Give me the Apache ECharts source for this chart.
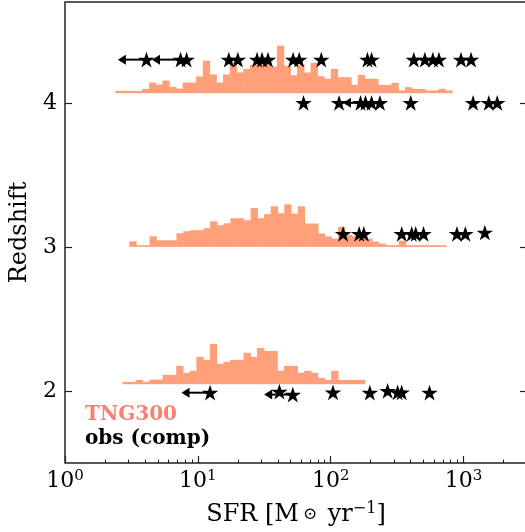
<!DOCTYPE html>
<html><head><meta charset="utf-8">
<script src="https://cdn.jsdelivr.net/npm/echarts@6/dist/echarts.min.js"></script>
<style>html,body{margin:0;padding:0;background:#fff}#c{width:525px;height:532px}</style>
</head><body><div id="c"></div>
<script>
// ---- axes / ticks ----
const xMajorTicks = [1, 10, 100, 1000];
const xMinorTicks = [2,3,4,5,6,7,8,9,20,30,40,50,60,70,80,90,200,300,400,500,600,700,800,900,2000,3000];
const yTicks = [2, 3, 4];

// ---- TNG300 histograms (bar heights in redshift units above each baseline) ----
const histBaseline = [2.047, 3.0, 4.067];
const histStartLogSFR = [0.431, 0.484, 0.378];
const binWidthDex = 0.0507;
const histZ2 = [0.016,0.016,0.030,0.016,0.032,0.032,0.065,0.065,0.127,0.079,
  0.093,0.190,0.169,0.280,0.141,0.155,0.169,0.169,0.218,0.190,
  0.252,0.231,0.231,0.093,0.127,0.127,0.079,0.093,0.079,0.044,
  0.030,0.093,0.030,0.030,0.030,0.030];
const histZ3 = [0.039,0.012,0.012,0.074,0.046,0.046,0.046,0.095,0.109,0.116,
  0.116,0.130,0.178,0.150,0.164,0.199,0.199,0.185,0.269,0.199,
  0.227,0.282,0.234,0.296,0.231,0.282,0.162,0.162,0.093,0.072,
  0.058,0.139,0.085,0.074,0.058,0.058,0.037,0.023,0.012,0.012,
  0.044,0.012,0.012,0.012,0.012,0.012,0.012];
const histZ4 = [0.016,0.016,0.016,0.016,0.030,0.074,0.060,0.088,0.044,0.032,
  0.074,0.074,0.116,0.225,0.130,0.074,0.130,0.220,0.144,0.169,
  0.197,0.213,0.227,0.185,0.330,0.190,0.125,0.197,0.144,0.210,
  0.118,0.100,0.169,0.111,0.111,0.058,0.127,0.100,0.100,0.058,
  0.058,0.072,0.019,0.042,0.030,0.030,0.019,0.019,0.030,0.019];

// ---- observations (comp) ----
const obsSFR = [
  // z~4 upper row
  4.10, 7.41, 8.23, 17.1, 20.0, 27.9, 30.4, 33.7, 52.1, 57.9, 84.9, 189, 203, 422, 511, 587, 652, 956, 1138,
  // z~4 lower row
  62.4, 115.6, 167.5, 182.7, 203, 234.5, 400, 1178, 1548, 1790,
  // z~3
  123.9, 163.7, 177.4, 342, 407, 436, 499, 891, 1031, 1445,
  // z~2
  12.35, 41.1, 51.8, 104, 197, 268, 319, 342, 554
];
const obsZ = [
  4.30,4.30,4.30,4.30,4.30,4.30,4.30,4.30,4.30,4.30,4.30,4.30,4.30,4.30,4.30,4.30,4.30,4.30,4.30,
  4.00,4.00,4.00,4.00,4.00,4.00,4.00,4.00,4.00,4.00,
  3.09,3.09,3.09,3.09,3.09,3.09,3.09,3.09,3.09,3.10,
  1.988,1.995,1.975,1.99,1.988,2.00,1.99,1.99,1.988
];
const obsUpperLimit = [
  1,1,0,0,0,0,0,0,0,0,0,0,0,0,0,0,0,0,0,
  0,0,0,0,1,0,0,0,0,0,
  0,0,0,0,0,0,0,0,0,0,
  1,0,1,0,0,0,0,0,0
];

// ---- style constants ----
const ARROW_DEX = 0.215;
const FONT = 'DejaVu Serif';
const BAR_COLOR = '#FFA07A';
const STAR = 'path://M100,0L122.45,69.1L195.11,69.1L136.33,111.8L158.78,180.9L100,138.2L41.22,180.9L63.67,111.8L4.89,69.1L77.55,69.1Z';

// build histogram bin records [x0, x1, yBottom, yTop]
const hists = [histZ2, histZ3, histZ4];
const histData = [];
hists.forEach((h, k) => {
  h.forEach((v, i) => {
    const l0 = histStartLogSFR[k] + i * binWidthDex;
    histData.push([Math.pow(10, l0), Math.pow(10, l0 + binWidthDex), histBaseline[k], histBaseline[k] + v]);
  });
});
const starData = obsSFR.map((s, i) => [s, obsZ[i]]);
const arrowData = obsSFR.map((s, i) => [s, obsZ[i]]).filter((d, i) => obsUpperLimit[i]);

const chart = echarts.init(document.getElementById('c'), null, {renderer: 'canvas'});
const option = {
  animation: false,
  backgroundColor: '#fff',
  grid: {left: 65, width: 462, top: 2, bottom: 69, outerBoundsMode: 'none', containLabel: false,
         show: true, borderColor: '#222', borderWidth: 1.5, backgroundColor: 'transparent'},
  xAxis: [
    {type: 'log', logBase: 10, min: 1, max: 3000, position: 'bottom',
     axisLine: {show: false},
     axisTick: {show: true, inside: true, length: 7, customValues: xMajorTicks, lineStyle: {color: '#222', width: 1.2}},
     axisLabel: {show: true, customValues: xMajorTicks, margin: 6,
       formatter: v => '{b|10}{s|' + Math.round(Math.log10(v)) + '}',
       rich: {b: {fontFamily: FONT, fontSize: 22, color: '#000'},
              s: {fontFamily: FONT, fontSize: 15, color: '#000', padding: [0, 0, 10, 0]}}},
     splitLine: {show: false}, minorTick: {show: false},
     name: '{t|SFR [M}{sub|⊙}{t| yr}{sup|−1}{t|]}', nameLocation: 'middle', nameGap: 38,
     nameTextStyle: {rich: {
       t: {fontFamily: FONT, fontSize: 24, color: '#000'},
       sub: {fontFamily: FONT, fontSize: 17, color: '#000', padding: [0, 3, 0, 4]},
       sup: {fontFamily: FONT, fontSize: 16, color: '#000', padding: [0, 0, 11, 0]}}}},
    {type: 'log', logBase: 10, min: 1, max: 3000, position: 'bottom',
     axisLine: {show: false},
     axisTick: {show: true, inside: true, length: 3.5, customValues: xMinorTicks, lineStyle: {color: '#222', width: 1}},
     axisLabel: {show: false}, splitLine: {show: false}}
  ],
  yAxis: [
    {type: 'value', min: 1.5, max: 4.70, position: 'left',
     axisLine: {show: false},
     axisTick: {show: true, inside: true, length: 7, customValues: yTicks, lineStyle: {color: '#222', width: 1.2}},
     axisLabel: {show: true, customValues: yTicks, margin: 8, fontFamily: FONT, fontSize: 22, color: '#000'},
     splitLine: {show: false},
     name: 'Redshift', nameLocation: 'middle', nameGap: 33, nameRotate: 90,
     nameTextStyle: {fontFamily: FONT, fontSize: 24, color: '#000'}},
    {type: 'value', min: 1.5, max: 4.70, position: 'right',
     axisLine: {show: false},
     axisTick: {show: true, inside: true, length: 7, customValues: yTicks, lineStyle: {color: '#222', width: 1.2}},
     axisLabel: {show: false}, splitLine: {show: false}}
  ],
  graphic: [
    {type: 'text', left: 85, top: 405, style: {text: 'TNG300', fontFamily: FONT, fontWeight: 'bold', fontSize: 20, fill: '#FA8072'}},
    {type: 'text', left: 85, top: 429, style: {text: 'obs (comp)', fontFamily: FONT, fontWeight: 'bold', fontSize: 20, fill: '#000'}}
  ],
  series: [
    {type: 'custom', name: 'TNG300', xAxisIndex: 0, yAxisIndex: 0, silent: true, z: 1,
     data: histData, encode: {x: [0, 1], y: [2, 3]},
     renderItem: (params, api) => {
       const pA = api.coord([api.value(0), api.value(3)]);
       const pB = api.coord([api.value(1), api.value(2)]);
       return {type: 'rect', shape: {x: pA[0], y: pA[1], width: pB[0] - pA[0] + 0.6, height: pB[1] - pA[1]},
               style: {fill: BAR_COLOR}};
     }},
    {type: 'custom', name: 'upper limits', xAxisIndex: 0, yAxisIndex: 0, silent: true, z: 2,
     data: arrowData, encode: {x: 0, y: 1},
     renderItem: (params, api) => {
       const s = api.value(0), z = api.value(1);
       const p0 = api.coord([s, z]);
       const p1 = api.coord([s / Math.pow(10, ARROW_DEX), z]);
       return {type: 'group', children: [
         {type: 'line', shape: {x1: p0[0], y1: p0[1], x2: p1[0] + 4, y2: p1[1]}, style: {stroke: '#000', lineWidth: 2}},
         {type: 'polygon', shape: {points: [[p1[0], p1[1]], [p1[0] + 8, p1[1] - 5], [p1[0] + 8, p1[1] + 5]]}, style: {fill: '#000'}}
       ]};
     }},
    {type: 'scatter', name: 'obs (comp)', xAxisIndex: 0, yAxisIndex: 0, z: 3, silent: true,
     symbol: STAR, symbolSize: [16.5, 15.7], itemStyle: {color: '#000', opacity: 1}, data: starData}
  ]
};
chart.setOption(option);
</script></body></html>
